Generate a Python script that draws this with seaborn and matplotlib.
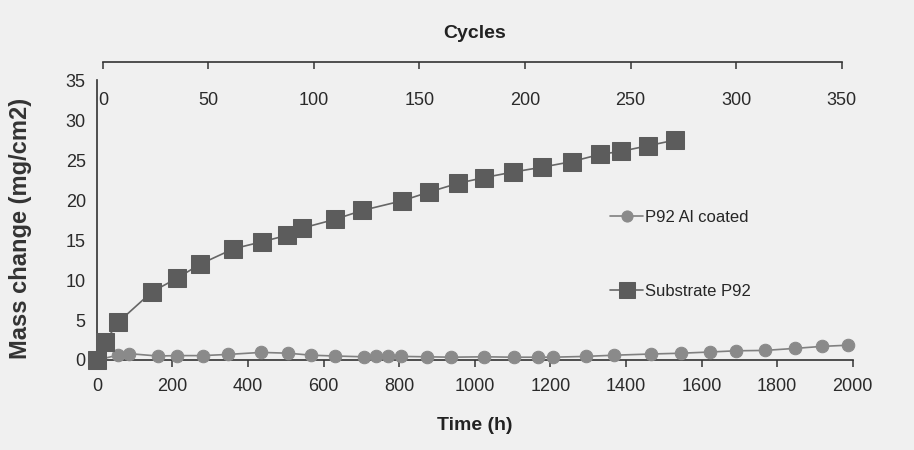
import matplotlib
matplotlib.use('Agg')
import matplotlib.pyplot as plt
import seaborn as sns
import pandas as pd

# Substrate P92 (squares)
sub_time = [0, 21, 56, 145, 211, 274, 361, 438, 504, 544, 631, 702, 807, 879,
            956, 1024, 1101, 1177, 1256, 1330, 1388, 1459, 1530]
sub_mass = [0, 2.2, 4.7, 8.5, 10.2, 12.0, 13.9, 14.8, 15.6, 16.5, 17.6, 18.7,
            19.9, 21.0, 22.1, 22.8, 23.5, 24.1, 24.8, 25.7, 26.1, 26.8, 27.5]

# P92 Al coated (circles)
coat_time = [0, 55, 84, 161, 211, 280, 348, 435, 506, 567, 631, 707, 739, 770,
             805, 873, 937, 1024, 1103, 1166, 1206, 1293, 1369, 1467, 1546,
             1623, 1691, 1768, 1847, 1918, 1987]
coat_mass = [0, 0.6, 0.8, 0.5, 0.55, 0.55, 0.7, 0.95, 0.85, 0.6, 0.5, 0.4, 0.45,
             0.45, 0.45, 0.4, 0.35, 0.4, 0.35, 0.35, 0.35, 0.45, 0.6, 0.75, 0.85,
             1.0, 1.15, 1.2, 1.45, 1.7, 1.85]

time_ticks = [0, 200, 400, 600, 800, 1000, 1200, 1400, 1600, 1800, 2000]
mass_ticks = [0, 5, 10, 15, 20, 25, 30, 35]
cycle_ticks = [0, 50, 100, 150, 200, 250, 300, 350]

sns.set_style('white')
plt.rcParams['font.family'] = ['Liberation Sans', 'DejaVu Sans']

bg = '#f0f0f0'
fig = plt.figure(figsize=(9.14, 4.5), dpi=100, facecolor=bg)
ax = fig.add_axes([0.106, 0.2, 0.827, 0.662])
ax.set_facecolor(bg)

coat_df = pd.DataFrame({'t': coat_time, 'm': coat_mass})
sub_df = pd.DataFrame({'t': sub_time, 'm': sub_mass})

sns.lineplot(data=coat_df, x='t', y='m', ax=ax, color='#808080', lw=1.2,
             marker='o', markersize=9, markerfacecolor='#8a8a8a',
             markeredgecolor='#8a8a8a', label='P92 Al coated', clip_on=False,
             sort=False, zorder=3)
sns.lineplot(data=sub_df, x='t', y='m', ax=ax, color='#666666', lw=1.2,
             marker='s', markersize=13, markerfacecolor='#5c5c5c',
             markeredgecolor='#5c5c5c', label='Substrate P92', clip_on=False,
             sort=False, zorder=4)

ax.set_xlim(0, 2000)
ax.set_ylim(0, 37.25)
ax.set_xticks(time_ticks)
ax.set_yticks(mass_ticks)
ax.spines['top'].set_visible(False)
ax.spines['right'].set_visible(False)
ax.spines['left'].set_bounds(0, 35)
for s in ['left', 'bottom']:
    ax.spines[s].set_color('#333333')
    ax.spines[s].set_linewidth(1.2)
ax.tick_params(axis='both', direction='out', length=5, width=1.1,
               color='#333333', labelsize=13, labelcolor='#2a2a2a')
ax.tick_params(axis='x', pad=8)
ax.tick_params(axis='y', pad=3)
ax.set_xlabel('Time (h)', fontsize=14, fontweight='bold', color='#222222', labelpad=16)
ax.set_ylabel('Mass change (mg/cm2)', fontsize=17, fontweight='bold',
              color='#333333')
ax.yaxis.set_label_coords(-0.086, 0.44)

ax2 = ax.twiny()
ax2.set_xlim(-2.84, 355.3)
ax2.set_xticks(cycle_ticks)
for s in ['left', 'right', 'bottom']:
    ax2.spines[s].set_visible(False)
ax2.spines['top'].set_bounds(0, 350)
ax2.spines['top'].set_color('#333333')
ax2.spines['top'].set_linewidth(1.2)
ax2.tick_params(axis='x', direction='in', length=5, width=1.1, color='#333333',
                labelsize=13, labelcolor='#2a2a2a', pad=-34)
ax2.set_xlabel('Cycles', fontsize=14, fontweight='bold', color='#222222', labelpad=17)

leg = ax.legend(loc='upper left', bbox_to_anchor=(0.67, 0.525), frameon=False,
                fontsize=12, handlelength=2.0, labelspacing=3.5,
                handletextpad=0.1, borderaxespad=0)
for h in leg.legend_handles:
    h.set_markersize(8 if h.get_marker() == 'o' else 12)

fig.savefig('out.png', dpi=100, facecolor=bg)
